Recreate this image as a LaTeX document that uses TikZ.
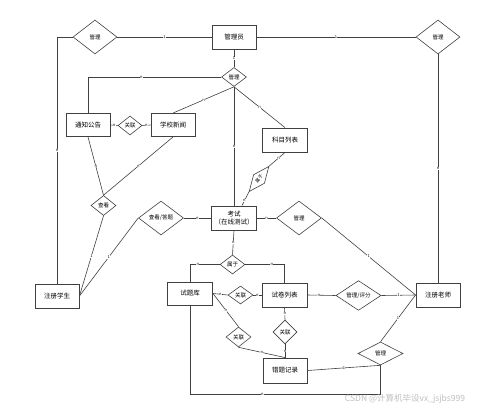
\documentclass[tikz,border=0pt]{standalone}
\usepackage{fontspec}
\usepackage{tikz}
\usetikzlibrary{shapes.geometric, calc}
\newfontfamily\cjk{Noto Sans CJK SC}
\definecolor{LineGray}{HTML}{404040}

\begin{document}
\begin{tikzpicture}[x=1pt, y=-1pt,
    ent/.style={draw=LineGray, line width=0.9pt, minimum width=44pt, minimum height=24pt,
                inner sep=0pt, font=\cjk\fontsize{6.5}{8}\selectfont, align=center},
    rel/.style={diamond, draw=LineGray, line width=0.6pt, minimum width=#1, inner sep=0pt,
                font=\cjk\fontsize{5.5}{6}\selectfont},
    rel/.default=25pt,
    con/.style={draw=LineGray, line width=0.6pt},
    lbl/.style={fill=white, inner sep=0.3pt, font=\cjk\fontsize{4}{4}\selectfont}]
    \useasboundingbox (0,0) rectangle (478,412);

    % entities
    \node[ent] (admin) at (234,37) {管理员};
    \node[ent, minimum height=23pt] (notice) at (88,125) {通知公告};
    \node[ent, minimum height=23pt] (news) at (173,125) {学校新闻};
    \node[ent, minimum width=45pt] (subject) at (285,140) {科目列表};
    \node[ent, minimum width=45pt] (exam) at (234,218) {考试\\（在线测试）};
    \node[ent] (student) at (57,296) {注册学生};
    \node[ent] (teacher) at (438,295) {注册老师};
    \node[ent, minimum width=45pt, minimum height=23pt] (bank) at (190,293.5) {试题库};
    \node[ent, minimum width=45pt] (paper) at (284.5,295) {试卷列表};
    \node[ent, minimum height=25pt] (wrong) at (285,370.5) {错题记录};

    % relations
    \node[rel=44pt, minimum height=34pt] (mgL) at (95,37) {管理};
    \node[rel=44pt, minimum height=34pt] (mgR) at (438,37) {管理};
    \node[rel, minimum height=19pt] (mgC) at (234,77) {管理};
    \node[rel=24pt, minimum height=19pt] (relNN) at (130,125.5) {关联};
    \node[rel, minimum height=20pt] (view) at (103.5,205.5) {查看};
    \node[rel=45pt, minimum height=34pt] (viewAns) at (161,218) {查看/答题};
    \node[rel=45pt, minimum height=34pt] (mgE) at (299,218) {管理};
    \node[rel=32pt, minimum height=14pt, rotate=52, font=\cjk\fontsize{4.5}{5}\selectfont] (belongS) at (259,179) {属于};
    \node[rel, minimum height=19pt] (belongE) at (232.5,264.5) {属于};
    \node[rel, minimum height=18pt] (relBP) at (240.5,295) {关联};
    \node[rel=45pt, minimum height=25pt] (grade) at (358.5,295.5) {管理/评分};
    \node[rel=24pt, minimum height=24pt] (relPW) at (285,332) {关联};
    \node[rel, minimum height=20pt] (relBW) at (238.5,337) {关联};
    \node[rel=45pt, minimum height=23pt] (mgW) at (380.5,353.5) {管理};

    % admin links
    \draw[con] (mgL.east) -- node[lbl] {1} (admin.west);
    \draw[con] (admin.east) -- node[lbl] {1} (mgR.west);
    \draw[con] (mgL.west) -| node[lbl, pos=0.73] {n} (student.north);
    \draw[con] (mgR.south) -- node[lbl] {n} (teacher.north);
    \draw[con] (admin.south) -- node[lbl] {1} (mgC.north);
    \draw[con] (mgC.west) -| node[lbl, pos=0.3] {n} (notice.north);
    \draw[con] (mgC.south) -- node[lbl] {n} (news.north);
    \draw[con] (mgC.south) -- node[lbl] {n} (exam.north);
    \draw[con] (mgC.south) -- node[lbl] {n} (subject.north);

    % notices and news
    \draw[con] (notice.east) -- node[lbl, pos=0.5] {n} (relNN.west);
    \draw[con] (relNN.east) -- node[lbl, pos=0.5] {n} (news.west);
    \draw[con] (notice.south) -- node[lbl] {n} (view.north);
    \draw[con] (news.south) -- node[lbl] {n} (view.north);
    \draw[con] (view.south) -- node[lbl] {1} (student.east);

    % exam
    \draw[con] (viewAns.west) -- node[lbl] {1} (student.east);
    \draw[con] (viewAns.east) -- node[lbl] {n} (exam.west);
    \draw[con] (exam.east) -- node[lbl] {n} (mgE.west);
    \draw[con] (mgE.east) -- node[lbl] {1} (teacher.west);
    \draw[con] (subject.south) -- node[lbl, pos=0.4] {n} (belongS.east);
    \draw[con] (belongS.west) -- node[lbl, pos=0.65] {n} ($(exam.north)+(8,0)$);
    \draw[con] (exam.south) -- node[lbl] {n} (belongE.north);
    \draw[con] (belongE.west) -| node[lbl, pos=0.37] {n} (bank.north);
    \draw[con] (belongE.east) -| node[lbl, pos=0.34] {n} (paper.north);

    % papers and questions
    \draw[con] (bank.east) -- node[lbl] {n} (relBP.west);
    \draw[con] (relBP.east) -- node[lbl] {n} (paper.west);
    \draw[con] (paper.east) -- node[lbl, pos=0.4] {n} (grade.west);
    \draw[con] (grade.east) -- node[lbl] {1} (teacher.west);
    \draw[con] (paper.south) -- node[lbl] {n} (relPW.north);
    \draw[con] (relPW.south) -- node[lbl] {n} (wrong.north);
    \draw[con] (bank.east) -- node[lbl] {n} (relBW.north);
    \draw[con] (relBW.south) -- node[lbl] {n} (wrong.north);
    \draw[con] (mgW.north) -- node[lbl] {1} (teacher.west);
    \draw[con] (mgW.south) -- node[lbl] {1} (wrong.east);
    \draw[con] (mgW.south) -- ++(0,29) -| node[lbl, pos=0.31] {n} (bank.south);

    \node[text=black!25, font=\cjk\fontsize{8.5}{9}\selectfont] (mark) at (405,399) {CSDN @计算机毕设vx\_jsjbs999};
\end{tikzpicture}
\end{document}
